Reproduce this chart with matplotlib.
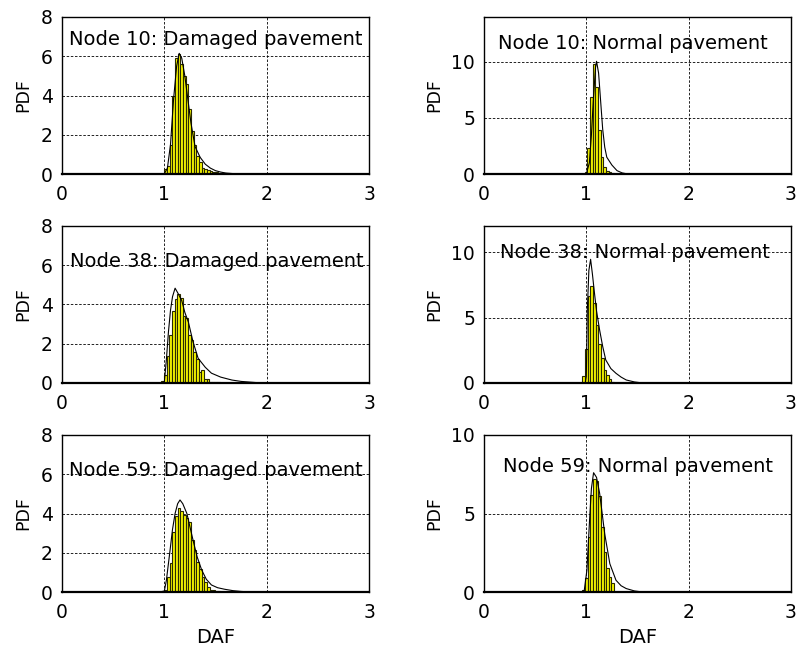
import numpy as np
import matplotlib
matplotlib.use("Agg")
import matplotlib.pyplot as plt

# panel titles
titles = ["Node 10: Damaged pavement", "Node 10: Normal pavement",
          "Node 38: Damaged pavement", "Node 38: Normal pavement",
          "Node 59: Damaged pavement", "Node 59: Normal pavement"]

bin_w = 0.026

# histogram bars: first bin left edge + heights
start_10d = 1.0
hist_10d = [0.25, 0.4, 1.5, 4.0, 5.9, 6.1, 5.6, 5.0, 4.6, 3.3, 2.2, 1.5, 0.9, 0.6,
            0.3, 0.25, 0.2, 0.15, 0.1, 0.08, 0.05, 0.05, 0.04]
start_10n = 0.985
hist_10n = [0.2, 2.3, 6.9, 9.8, 7.8, 3.9, 1.5, 0.65, 0.3, 0.15, 0.08]
start_38d = 0.97
hist_38d = [0.1, 0.4, 1.35, 2.45, 3.65, 4.3, 4.55, 4.35, 3.4, 3.3, 2.45, 2.2, 1.6,
            1.2, 0.55, 0.65, 0.2, 0.2, 0.05, 0.04, 0.03, 0.03, 0.02]
start_38n = 0.96
hist_38n = [0.5, 2.6, 6.65, 7.4, 6.1, 4.4, 3.0, 1.9, 1.0, 0.6, 0.3, 0.1]
start_59d = 1.0
hist_59d = [0.1, 0.75, 1.5, 3.08, 3.85, 4.27, 4.15, 3.9, 3.75, 3.55, 2.65, 2.14, 1.55,
            1.16, 0.75, 0.5, 0.25, 0.12, 0.08, 0.04, 0.03]
start_59n = 0.96
hist_59n = [0.1, 0.92, 3.5, 6.2, 7.2, 7.1, 6.1, 4.16, 2.57, 1.5, 0.97, 0.6]

# fitted pdf curves
cx_10d = [0.95, 1.0, 1.03, 1.06, 1.09, 1.12, 1.145, 1.17, 1.2, 1.23, 1.26, 1.3, 1.35,
          1.4, 1.45, 1.5, 1.55, 1.6, 1.7, 1.8]
cy_10d = [0, 0.02, 0.3, 1.5, 3.8, 5.5, 6.15, 5.9, 5.0, 3.8, 2.6, 1.4, 0.85, 0.5, 0.3,
          0.17, 0.1, 0.05, 0.01, 0]
cx_10n = [0.95, 1.0, 1.03, 1.05, 1.07, 1.09, 1.10, 1.12, 1.14, 1.16, 1.18, 1.2, 1.25,
          1.3, 1.35, 1.4]
cy_10n = [0, 0, 1.0, 3.5, 6.8, 9.5, 10.05, 9.0, 6.5, 4.0, 2.4, 1.5, 0.8, 0.3, 0.1, 0.01]
cx_38d = [0.95, 1.0, 1.02, 1.04, 1.06, 1.08, 1.105, 1.13, 1.17, 1.2, 1.235, 1.28, 1.33,
          1.4, 1.46, 1.55, 1.66, 1.75, 1.85, 1.95]
cy_38d = [0, 0.05, 1.2, 2.6, 3.7, 4.4, 4.83, 4.6, 4.2, 3.6, 3.1, 2.1, 1.26, 0.8, 0.5,
          0.3, 0.15, 0.08, 0.04, 0]
cx_38n = [0.95, 0.99, 1.0, 1.01, 1.025, 1.042, 1.06, 1.08, 1.1, 1.13, 1.16, 1.19, 1.24,
          1.29, 1.34, 1.39, 1.47, 1.55]
cy_38n = [0, 0.0, 0.5, 5.6, 8.6, 9.45, 8.3, 6.85, 5.5, 4.05, 2.8, 1.76, 1.1, 0.74, 0.45,
          0.23, 0.08, 0.0]
cx_59d = [0.95, 1.0, 1.02, 1.056, 1.08, 1.105, 1.13, 1.153, 1.18, 1.22, 1.28, 1.32,
          1.365, 1.41, 1.46, 1.52, 1.59, 1.67, 1.75, 1.85]
cy_59d = [0, 0.05, 0.6, 2.14, 3.2, 4.0, 4.5, 4.69, 4.5, 4.0, 2.65, 1.8, 1.12, 0.65,
          0.36, 0.22, 0.14, 0.07, 0.03, 0]
cx_59n = [0.95, 0.98, 1.006, 1.032, 1.05, 1.071, 1.1, 1.13, 1.155, 1.18, 1.23, 1.29,
          1.34, 1.39, 1.47, 1.55]
cy_59n = [0, 0.1, 1.4, 4.6, 6.6, 7.6, 7.3, 6.3, 5.0, 3.7, 1.8, 0.75, 0.4, 0.22, 0.07, 0]

starts = [start_10d, start_10n, start_38d, start_38n, start_59d, start_59n]
hists = [hist_10d, hist_10n, hist_38d, hist_38n, hist_59d, hist_59n]
curves = [(cx_10d, cy_10d), (cx_10n, cy_10n), (cx_38d, cy_38d),
          (cx_38n, cy_38n), (cx_59d, cy_59d), (cx_59n, cy_59n)]
ylims = [8, 14, 8, 12, 8, 10]
yticks = [[0, 2, 4, 6, 8], [0, 5, 10], [0, 2, 4, 6, 8], [0, 5, 10],
          [0, 2, 4, 6, 8], [0, 5, 10]]
text_pos = [(0.023, 0.854), (0.045, 0.828), (0.026, 0.771),
            (0.052, 0.828), (0.023, 0.777), (0.062, 0.80)]

plt.rcParams['font.family'] = ['DejaVu Sans']

fig = plt.figure(figsize=(7.96, 6.51), dpi=100)
lefts = [0.0779, 0.608]
bottoms = [0.7327, 0.4117, 0.0906]
w, h = 0.3857, 0.2412

for i in range(6):
    r, c = i // 2, i % 2
    ax = fig.add_axes([lefts[c], bottoms[r], w, h])
    left_edges = starts[i] + bin_w * np.arange(len(hists[i]))
    ax.bar(left_edges, hists[i], width=bin_w, align='edge', color='#f5f500',
           edgecolor='#2a2a00', linewidth=0.8, zorder=2)
    ax.plot(curves[i][0], curves[i][1], color='black', linewidth=0.8, zorder=3)
    ax.set_xlim(0, 3)
    ax.set_ylim(0, ylims[i])
    ax.set_xticks([0, 1, 2, 3])
    ax.set_yticks(yticks[i])
    ax.grid(True, color='black', linestyle=(0, (3, 2)), linewidth=0.6)
    ax.set_axisbelow(True)
    ax.tick_params(axis='x', direction='in', length=0, pad=8, labelsize=13.5)
    ax.tick_params(axis='y', direction='in', length=0, pad=6.5, labelsize=13.5)
    for s in ax.spines.values():
        s.set_linewidth(1.0)
    ax.spines['bottom'].set_linewidth(1.6)
    ax.set_ylabel('PDF', fontsize=12.5, labelpad=6)
    if r == 2:
        ax.set_xlabel('DAF', fontsize=14, labelpad=4)
    ax.text(text_pos[i][0], text_pos[i][1], titles[i], transform=ax.transAxes,
            fontsize=14, ha='left', va='center', zorder=4)

fig.savefig('out.png', dpi=100)
